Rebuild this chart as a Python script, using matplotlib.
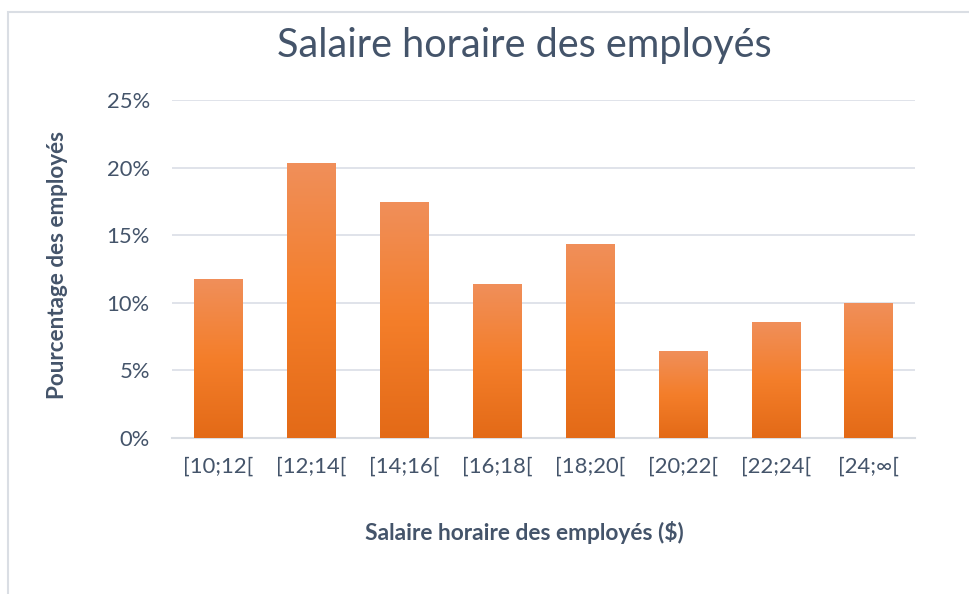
import numpy as np
import matplotlib
import matplotlib.pyplot as plt
from matplotlib.colors import LinearSegmentedColormap
from matplotlib.patches import Rectangle

matplotlib.use('Agg')

## Data
categories = ["[10;12[", "[12;14[", "[14;16[", "[16;18[", "[18;20[", "[20;22[", "[22;24[", "[24;∞["]
values = [0.1176, 0.2035, 0.1746, 0.1137, 0.1433, 0.0639, 0.0854, 0.0995]
yticks = [0, 0.05, 0.10, 0.15, 0.20, 0.25]
ytick_labels = ["0%", "5%", "10%", "15%", "20%", "25%"]

title = "Salaire horaire des employés"
xlabel = "Salaire horaire des employés ($)"
ylabel = "Pourcentage des employés"

text_col = "#44546A"
grid_col = "#DDE1E8"

plt.rcParams['font.family'] = ['Lato', 'DejaVu Sans']

fig = plt.figure(figsize=(9.69, 5.94), dpi=100)
ax = fig.add_axes([172/969, 1 - 437.7/594, (915-172)/969, (437.7-100)/594])

# outer chart border (only left/top visible in the crop)
fig.patches.append(Rectangle((8/969, -0.5), 2.0, 0.5 + 1 - 12/594, transform=fig.transFigure,
                             fill=False, edgecolor="#DADEE4", linewidth=1.5))

x = np.arange(len(categories))
bars = ax.bar(x, values, width=0.52, color="#F47D2B", zorder=2)

# vertical gradient per bar, light on top, darker at bottom
cmap = LinearSegmentedColormap.from_list("og", ["#E36A17", "#F47E2A", "#F08F5A"])
grad = np.linspace(0, 1, 256).reshape(-1, 1)
for b in bars:
    x0, w, h = b.get_x(), b.get_width(), b.get_height()
    im = ax.imshow(grad, cmap=cmap, origin="lower", aspect="auto",
                   extent=[x0, x0 + w, 0, h], zorder=3)
    im.set_clip_path(b)

ax.set_xlim(-0.5, len(categories) - 0.5)
ax.set_ylim(0, 0.25)
ax.set_yticks(yticks)
ax.set_yticklabels(ytick_labels)
ax.set_xticks(x)
ax.set_xticklabels(categories)

ax.grid(axis="y", color=grid_col, linewidth=1.3, zorder=0)
ax.set_axisbelow(True)
for s in ["top", "right", "left"]:
    ax.spines[s].set_visible(False)
ax.spines["bottom"].set_color("#D9DDE3")
ax.spines["bottom"].set_linewidth(1.5)
ax.tick_params(axis="both", length=0, labelsize=15.8, labelcolor=text_col)
ax.tick_params(axis="x", pad=14)
ax.tick_params(axis="y", pad=16)

ax.set_xlabel(xlabel, fontsize=16.4, fontweight="bold", color=text_col)
ax.set_ylabel(ylabel, fontsize=16.2, fontweight="bold", color=text_col)
ax.xaxis.label.set_va("center")
ax.yaxis.label.set_va("center")
ax.xaxis.set_label_coords((524 - 172) / 743, (437.7 - 533) / 337.7)
ax.yaxis.set_label_coords((58 - 172) / 743, (437.7 - 265) / 337.7)

fig.text(524/969, 1 - 45/594, title, ha="center", va="center",
         fontsize=28.5, fontweight="normal", color=text_col)

fig.savefig("out.png", dpi=100, facecolor="white")
plt.close()
